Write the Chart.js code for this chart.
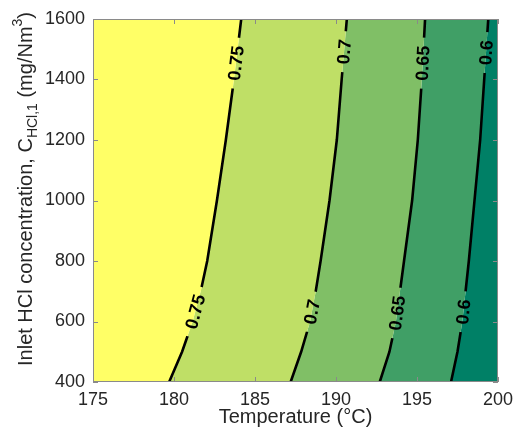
<!DOCTYPE html>
<html>
<head>
<meta charset="utf-8">
<script src="https://cdn.jsdelivr.net/npm/chart.js@4.4.1/dist/chart.umd.min.js"></script>
<style>
  html, body { margin: 0; padding: 0; background: #fff; }
  #wrap { width: 520px; height: 435px; }
</style>
</head>
<body>
<div id="wrap"><canvas id="myChart"></canvas></div>
<script>
// inlet HCl concentration (mg/Nm3) where the contours were read
var conc = [400, 500, 600, 700, 800, 1000, 1200, 1400, 1600]

// temperature (C) of each contour line at those concentrations
var t075 = [179.7, 180.5, 181.15, 181.65, 182.05, 182.65, 183.2, 183.7, 184.15]
var t070 = [187.2, 187.85, 188.4, 188.75, 189.05, 189.6, 190.05, 190.35, 190.67]
var t065 = [192.7, 193.3, 193.7, 193.95, 194.2, 194.7, 195.05, 195.3, 195.5]
var t060 = [197.1, 197.5, 197.8, 198.0, 198.2, 198.55, 198.9, 199.15, 199.4]

var levels = ['0.75', '0.7', '0.65', '0.6']
var contours = [t075, t070, t065, t060]

// concentration where each contour carries its labels
var labelConc = [[632, 1454], [632, 1492], [628, 1454], [632, 1489]]

var xMin = 175, xMax = 200, xStep = 5
var yMin = 400, yMax = 1600, yStep = 200

var fillColors = ['#ffff66', '#bfdf66', '#80bf66', '#409f66', '#008066']
var textColor = '#262626'
var labelFont = 'bold 18px "Liberation Sans", Arial, sans-serif'

// boundaries from left to right: axis edge, contours, axis edge
var bounds = [conc.map(function(){ return xMin })]
  .concat(contours)
  .concat([conc.map(function(){ return xMax })])

var datasets = []

// contour lines on top
contours.forEach(function(t, k){
  datasets.push({
    label: levels[k],
    isContour: true,
    data: conc.map(function(c, i){ return {x: t[i], y: c} }),
    showLine: true,
    borderColor: '#000',
    borderWidth: 2.6,
    pointRadius: 0,
    fill: false,
    tension: 0,
    order: 0
  })
})

// filled bands between neighbouring boundaries
for (var b = 0; b < bounds.length - 1; b++) {
  var left = bounds[b], right = bounds[b + 1]
  var pts = []
  conc.forEach(function(c, i){ pts.push({x: left[i], y: c}) })
  for (var i = conc.length - 1; i >= 0; i--) pts.push({x: right[i], y: conc[i]})
  datasets.push({
    label: 'band' + b,
    data: pts,
    showLine: true,
    borderWidth: 0,
    borderColor: fillColors[b],
    backgroundColor: fillColors[b],
    pointRadius: 0,
    fill: 'shape',
    tension: 0,
    order: 1
  })
}

function labelBoxes(chart){
  var xs = chart.scales.x, ys = chart.scales.y
  var ctx = chart.ctx
  ctx.save()
  ctx.font = labelFont
  var out = []
  contours.forEach(function(t, k){
    labelConc[k].forEach(function(c){
      var j = 0
      while (j < conc.length - 2 && conc[j + 1] < c) j++
      var x1 = xs.getPixelForValue(t[j]), y1 = ys.getPixelForValue(conc[j])
      var x2 = xs.getPixelForValue(t[j + 1]), y2 = ys.getPixelForValue(conc[j + 1])
      var f = (c - conc[j]) / (conc[j + 1] - conc[j])
      out.push({
        text: levels[k],
        x: x1 + f * (x2 - x1),
        y: y1 + f * (y2 - y1),
        a: Math.atan2(y2 - y1, x2 - x1),
        w: ctx.measureText(levels[k]).width + 16,
        h: 16
      })
    })
  })
  ctx.restore()
  return out
}

var contourPlugin = {
  id: 'contourPlugin',
  beforeDatasetDraw: function(chart, args){
    var ds = chart.data.datasets[args.index]
    if (!ds.isContour) return
    var ctx = chart.ctx
    ctx.save()
    ctx.beginPath()
    ctx.rect(0, 0, chart.width, chart.height)
    labelBoxes(chart).forEach(function(l){
      var c = Math.cos(l.a), s = Math.sin(l.a)
      var corners = [[-l.w/2, -l.h/2], [l.w/2, -l.h/2], [l.w/2, l.h/2], [-l.w/2, l.h/2]]
      corners.forEach(function(p, n){
        var px = l.x + p[0]*c - p[1]*s
        var py = l.y + p[0]*s + p[1]*c
        if (n == 0) ctx.moveTo(px, py)
        else ctx.lineTo(px, py)
      })
      ctx.closePath()
    })
    ctx.clip('evenodd')
  },
  afterDatasetDraw: function(chart, args){
    var ds = chart.data.datasets[args.index]
    if (!ds.isContour) return
    chart.ctx.restore()
  },
  afterDatasetsDraw: function(chart){
    var ctx = chart.ctx
    var area = chart.chartArea
    var xs = chart.scales.x, ys = chart.scales.y

    // contour labels
    ctx.save()
    ctx.font = labelFont
    ctx.fillStyle = '#000'
    ctx.textAlign = 'center'
    ctx.textBaseline = 'middle'
    labelBoxes(chart).forEach(function(l){
      ctx.save()
      ctx.translate(l.x, l.y)
      ctx.rotate(l.a)
      ctx.fillText(l.text, 0, 1)
      ctx.restore()
    })
    ctx.restore()

    // box and inward ticks
    ctx.save()
    ctx.strokeStyle = '#8a8a8a'
    ctx.lineWidth = 1
    ctx.strokeRect(area.left + 0.5, area.top + 0.5, area.right - area.left - 1, area.bottom - area.top - 1)
    ctx.beginPath()
    for (var v = xMin; v <= xMax; v += xStep) {
      var px = Math.round(xs.getPixelForValue(v)) + 0.5
      ctx.moveTo(px, area.bottom); ctx.lineTo(px, area.bottom - 5)
      ctx.moveTo(px, area.top); ctx.lineTo(px, area.top + 5)
    }
    for (var w = yMin; w <= yMax; w += yStep) {
      var py = Math.round(ys.getPixelForValue(w)) + 0.5
      ctx.moveTo(area.left, py); ctx.lineTo(area.left + 5, py)
      ctx.moveTo(area.right, py); ctx.lineTo(area.right - 5, py)
    }
    ctx.stroke()
    ctx.restore()
  },
  afterDraw: function(chart){
    // y axis title with subscript and superscript
    var ctx = chart.ctx
    var parts = [
      {t: 'Inlet HCl concentration, C', s: 20, dy: 0},
      {t: 'HCl,1', s: 14, dy: 5},
      {t: ' (mg/Nm', s: 20, dy: 0},
      {t: '3', s: 14, dy: -10},
      {t: ')', s: 20, dy: 0}
    ]
    ctx.save()
    ctx.fillStyle = textColor
    ctx.textBaseline = 'alphabetic'
    ctx.textAlign = 'left'
    var total = 0
    parts.forEach(function(p){
      ctx.font = p.s + 'px "Liberation Sans", Arial, sans-serif'
      p.w = ctx.measureText(p.t).width
      total += p.w
    })
    ctx.translate(32, 189)
    ctx.rotate(-Math.PI / 2)
    var x = -total / 2
    parts.forEach(function(p){
      ctx.font = p.s + 'px "Liberation Sans", Arial, sans-serif'
      ctx.fillText(p.t, x, p.dy)
      x += p.w
    })
    ctx.restore()
  }
}

function start(){
  var ctx = document.getElementById('myChart').getContext('2d')
  new Chart(ctx, {
    type: 'scatter',
    data: { datasets: datasets },
    options: {
      responsive: true,
      maintainAspectRatio: false,
      animation: false,
      events: [],
      layout: { padding: { top: 19, right: 17, bottom: 0, left: 0 } },
      plugins: {
        legend: { display: false },
        tooltip: { enabled: false }
      },
      scales: {
        x: {
          type: 'linear',
          min: xMin,
          max: xMax,
          afterFit: function(scale){ scale.height = 53 },
          grid: { display: false, drawTicks: false },
          border: { display: false },
          ticks: {
            stepSize: xStep,
            padding: 7,
            color: textColor,
            callback: function(v){ return String(v) },
            font: { family: '"Liberation Sans", Arial, sans-serif', size: 18 }
          },
          title: {
            display: true,
            text: 'Temperature (°C)',
            color: textColor,
            padding: { top: 0, bottom: 6 },
            font: { family: '"Liberation Sans", Arial, sans-serif', size: 20 }
          }
        },
        y: {
          type: 'linear',
          min: yMin,
          max: yMax,
          afterFit: function(scale){ scale.width = 93 },
          grid: { display: false, drawTicks: false },
          border: { display: false },
          ticks: {
            stepSize: yStep,
            padding: 8,
            color: textColor,
            callback: function(v){ return String(v) },
            font: { family: '"Liberation Sans", Arial, sans-serif', size: 18 }
          }
        }
      }
    },
    plugins: [contourPlugin]
  })
}

start()
</script>
</body>
</html>
